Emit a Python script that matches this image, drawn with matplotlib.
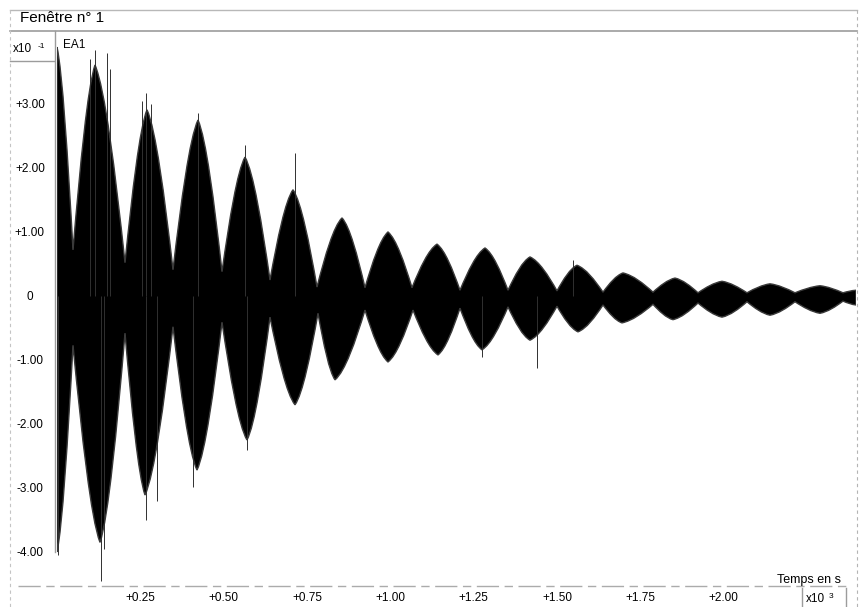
import matplotlib
matplotlib.use("Agg")
import matplotlib.pyplot as plt
from matplotlib.path import Path
from matplotlib.patches import PathPatch
import numpy as np

plt.rcParams['font.family'] = ['Liberation Sans', 'DejaVu Sans']

# ---- data (time in 1e-3 s, amplitude in 1e-1 units) ----
# envelope key points: alternating beat nodes and lobe peaks
upper_t = [0.000, 0.048, 0.114, 0.204, 0.270, 0.348, 0.423, 0.495, 0.564, 0.639,
           0.708, 0.780, 0.855, 0.924, 0.993, 1.065, 1.140, 1.209, 1.284, 1.353,
           1.419, 1.500, 1.560, 1.638, 1.698, 1.788, 1.854, 1.923, 1.995, 2.070,
           2.139, 2.214, 2.289, 2.358, 2.397]
upper_v = [3.89, 0.72, 3.61, 0.52, 2.91, 0.41, 2.75, 0.38, 2.17, 0.25,
           1.66, 0.14, 1.22, 0.13, 1.00, 0.13, 0.81, 0.09, 0.75, 0.09,
           0.61, 0.08, 0.48, 0.06, 0.36, 0.06, 0.28, 0.05, 0.23, 0.05,
           0.19, 0.05, 0.16, 0.05, 0.09]
lower_t = [0.000, 0.048, 0.129, 0.204, 0.264, 0.348, 0.420, 0.495, 0.570, 0.639,
           0.714, 0.783, 0.834, 0.924, 0.993, 1.068, 1.143, 1.209, 1.275, 1.353,
           1.419, 1.500, 1.563, 1.638, 1.695, 1.788, 1.848, 1.923, 1.995, 2.070,
           2.139, 2.214, 2.289, 2.358, 2.397]
lower_v = [-4.00, -0.77, -3.85, -0.58, -3.11, -0.48, -2.72, -0.41, -2.25, -0.33,
           -1.70, -0.27, -1.31, -0.22, -1.03, -0.22, -0.92, -0.19, -0.84, -0.17,
           -0.69, -0.16, -0.56, -0.14, -0.42, -0.13, -0.37, -0.11, -0.33, -0.09,
           -0.30, -0.09, -0.27, -0.08, -0.14]
# isolated spikes standing out of the envelope
spike_t = [0.003, 0.114, 0.150, 0.132, 0.267, 0.267, 0.408, 0.423, 0.564, 0.714,
           1.275, 1.440, 1.548, 0.099, 0.160, 0.255, 0.282, 0.140, 0.300, 0.570]
spike_v = [-4.05, 3.84, 3.80, -4.45, 3.17, -3.50, -2.98, 2.86, 2.36, 2.23,
           -0.95, -1.12, 0.56, 3.70, 3.55, 3.05, 3.00, -3.95, -3.20, -2.40]

x_ticks = [0.25, 0.50, 0.75, 1.00, 1.25, 1.50, 1.75, 2.00]
x_labels = ['+0.25', '+0.50', '+0.75', '+1.00', '+1.25', '+1.50', '+1.75', '+2.00']
y_ticks = [3, 2, 1, 0, -1, -2, -3, -4]
y_labels = ['+3.00', '+2.00', '+1.00', '0', '-1.00', '-2.00', '-3.00', '-4.00']


def envelope_verts(ts, vs):
    """Cubic Bezier vertices through the key points: cusp at nodes, pointed bulging lobes."""
    verts = [(ts[0], vs[0])]
    for i in range(len(ts) - 1):
        t0, v0, t1, v1 = ts[i], vs[i], ts[i + 1], vs[i + 1]
        dt, dv = t1 - t0, v1 - v0
        if abs(v1) > abs(v0):      # node -> peak
            c1 = (t0 + dt / 3, v0 + 0.47 * dv)
            c2 = (t1 - dt / 3, v0 + 0.88 * dv)
        else:                      # peak -> node
            c1 = (t0 + dt / 3, v0 + 0.12 * dv)
            c2 = (t1 - dt / 3, v0 + 0.53 * dv)
        verts += [c1, c2, (t1, v1)]
    return verts


W, H = 862, 607
fig = plt.figure(figsize=(W / 100, H / 100), dpi=100)

# overlay in pixel coordinates for the frame decorations
ov = fig.add_axes([0, 0, 1, 1], zorder=0)
ov.set_xlim(0, W)
ov.set_ylim(H, 0)
ov.axis('off')
gc = '#9c9c9c'
ov.plot([10, 857], [10, 10], color='#b8b8b8', lw=1.0)
ov.plot([10, 857], [31, 31], color=gc, lw=1.2)
ov.plot([10, 10], [10, 607], color='#c4c4c4', lw=0.8, ls=(0, (3, 3)))
ov.plot([857, 857], [10, 607], color='#b4b4b4', lw=0.8, ls=(0, (3, 3)))
ov.plot([55, 55], [31, 552], color=gc, lw=1.0)
ov.plot([10, 54], [61, 61], color=gc, lw=1.0)
ov.plot([18, 848], [586, 586], color='#ababab', lw=1.0, ls=(0, (16, 4, 6, 4)))
ov.plot([802, 802], [588, 607], color=gc, lw=1.0)
ov.plot([846, 846], [588, 607], color=gc, lw=1.0)

ov.text(20, 18, 'Fenêtre n° 1', fontsize=11, va='center', ha='left')
ov.text(13, 49, 'x10', fontsize=8.5, va='center', ha='left')
ov.text(38, 46, '-1', fontsize=6, va='center', ha='left')
ov.text(63, 45, 'EA1', fontsize=8.5, va='center', ha='left')
ov.text(777, 580, 'Temps en s', fontsize=9, va='center', ha='left')
ov.text(806, 599, 'x10', fontsize=8.5, va='center', ha='left')
ov.text(829, 596, '3', fontsize=6, va='center', ha='left')

# main signal axes
x0, x1, ytop, ybot = 57, 856, 31, 586
ax = fig.add_axes([x0 / W, 1 - ybot / H, (x1 - x0) / W, (ybot - ytop) / H], zorder=1)
ax.patch.set_alpha(0)
ax.set_xlim(0, (x1 - x0) / 333.33)
ax.set_ylim((296 - ybot) / 64.0, (296 - ytop) / 64.0)
for s in ax.spines.values():
    s.set_visible(False)

up = envelope_verts(upper_t, upper_v)
lo = envelope_verts(lower_t, lower_v)[::-1]
verts = up + lo + [up[0]]
codes = ([Path.MOVETO] + [Path.CURVE4] * (len(up) - 1) + [Path.LINETO]
         + [Path.CURVE4] * (len(lo) - 1) + [Path.CLOSEPOLY])
ax.add_patch(PathPatch(Path(verts, codes), facecolor='black',
                       edgecolor='#3a3a3a', lw=1.0))
ax.vlines(spike_t, 0, spike_v, color='#303030', lw=0.7)

ax.set_xticks(x_ticks)
ax.set_xticklabels(x_labels)
ax.set_yticks(y_ticks)
ax.set_yticklabels(y_labels)
ax.tick_params(axis='y', length=0, pad=19.5, labelsize=8.5)
ax.tick_params(axis='x', length=0, pad=4, labelsize=8.5)
for lab in ax.get_yticklabels():
    lab.set_horizontalalignment('center')

fig.savefig('out.png', dpi=100)
